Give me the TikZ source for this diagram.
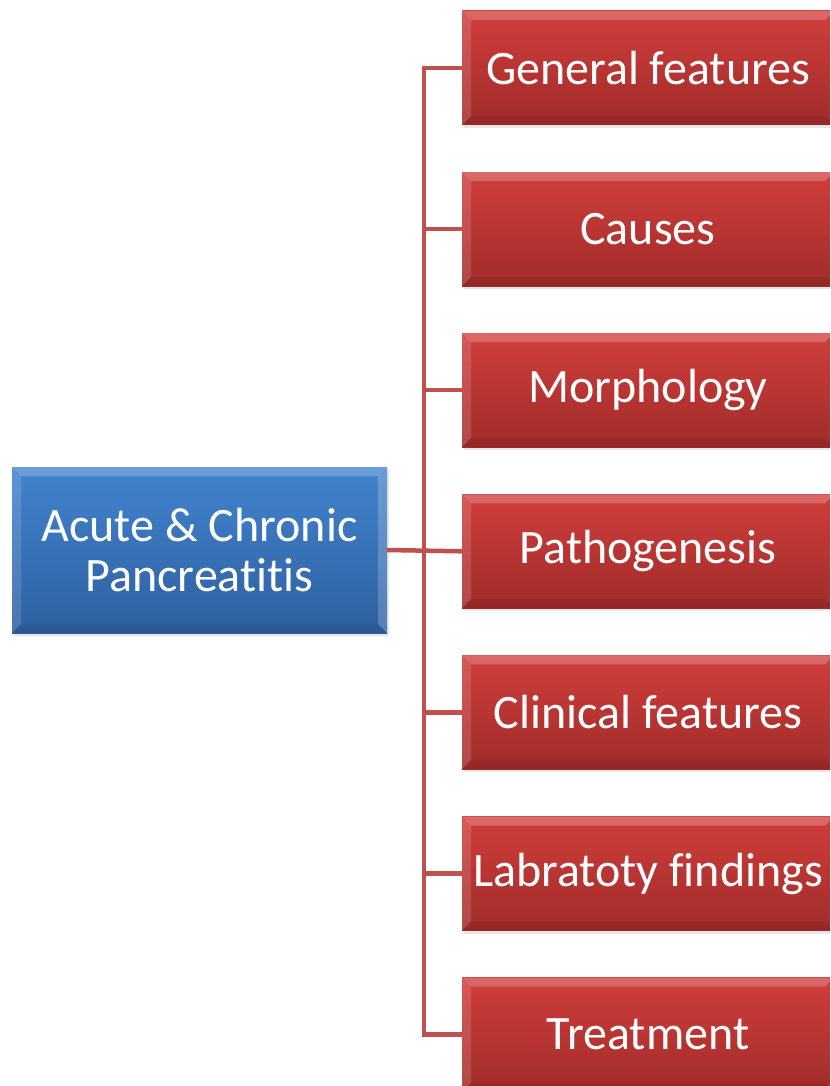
\documentclass[tikz,border=0pt]{standalone}
\usepackage{fontspec}
\setmainfont{Carlito}[Ligatures=NoCommon]
\usetikzlibrary{positioning,calc,shadows}

\definecolor{topicred}{RGB}{192,80,77}
\definecolor{redtop}{RGB}{208,62,60}
\definecolor{redbot}{RGB}{160,44,42}
\definecolor{bluetop}{RGB}{66,132,206}
\definecolor{bluebot}{RGB}{46,96,160}

\tikzset{
  % light edges round a box, #1 = opacity of the right edge
  bevel/.style={path picture={
      \coordinate (nw) at (path picture bounding box.north west);
      \coordinate (ne) at (path picture bounding box.north east);
      \coordinate (sw) at (path picture bounding box.south west);
      \coordinate (se) at (path picture bounding box.south east);
      \fill[white,opacity=.22] (nw) -- (ne) -- ($(ne)+(-9,9)$) -- ($(nw)+(9,9)$) -- cycle;
      \fill[white,opacity=.14] (nw) -- ($(nw)+(9,9)$) -- ($(sw)+(9,-9)$) -- (sw) -- cycle;
      \fill[white,opacity=#1] (ne) -- ($(ne)+(-9,9)$) -- ($(se)+(-9,-9)$) -- (se) -- cycle;
      \fill[black,opacity=.07] (sw) -- ($(sw)+(9,-9)$) -- ($(se)+(-9,-9)$) -- (se) -- cycle;
    }},
  box/.style={rectangle, text=white, align=center,
    font=\fontsize{48}{50}\selectfont,
    drop shadow={shadow xshift=2pt, shadow yshift=-3pt, opacity=.2}},
  main node/.style={box, bevel=.2, top color=bluetop, bottom color=bluebot,
    minimum width=375pt, minimum height=166pt},
  topic/.style={box, bevel=0, top color=redtop, bottom color=redbot,
    minimum width=372pt, minimum height=114pt},
  link/.style={draw=topicred, line width=4.5pt}
}

\begin{document}
\begin{tikzpicture}[x=1pt, y=-1pt, node distance=46.7pt]
  \useasboundingbox (0,0) rectangle (830,1086);
  \clip (0,0) rectangle (830,1086);

  % subtopics, top to bottom
  \node[topic] (gen) at (648,68) {General features};
  \node[topic] (cause) [below=of gen] {Causes};
  \node[topic] (morph) [below=of cause] {Morphology};
  \node[topic] (patho) [below=of morph] {Pathogenesis};
  \node[topic] (clin) [below=of patho] {Clinical features};
  \node[topic] (lab) [below=of clin] {Labratoty findings};
  \node[topic] (treat) [below=of lab] {Treatment};

  \node[main node] (pan) at (199.5,550) {Acute \& Chronic\\Pancreatitis};

  % tree lines
  \draw[link] (gen.west) -- ++(-38,0) coordinate (trunk) |- (treat.west);
  \foreach \n in {cause,morph,clin,lab}
    \draw[link] (\n.west) -- (\n.west -| trunk);
  \draw[link] (pan.east) -- (patho.west);
\end{tikzpicture}
\end{document}
